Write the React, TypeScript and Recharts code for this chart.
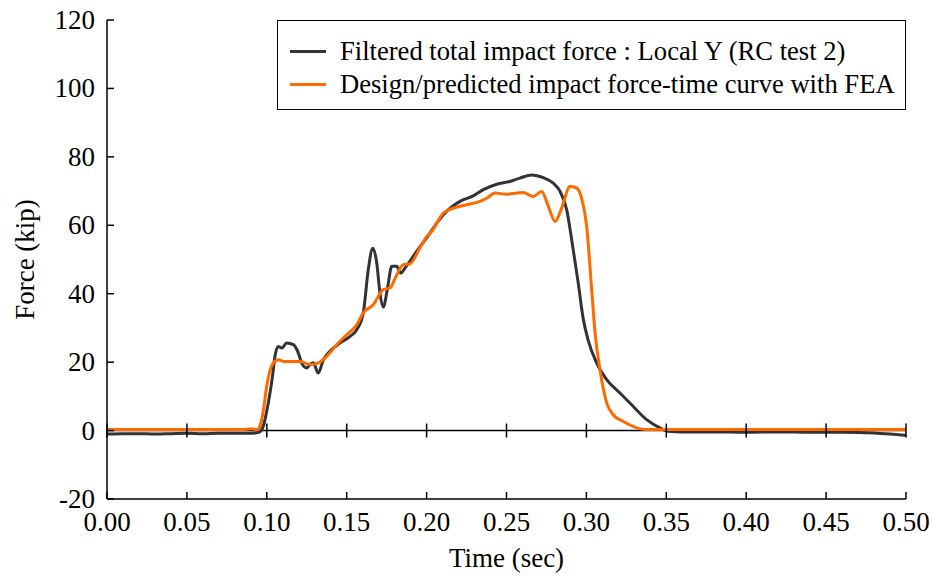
import React from 'react';
import { LineChart, Line, XAxis, YAxis, ReferenceLine, ReferenceDot, Legend } from 'recharts';

// Measured (filtered) impact force, Local Y, RC test 2
const measuredTime = [
  0, 0.01, 0.02, 0.03, 0.04, 0.05, 0.06, 0.07, 0.08, 0.09, 0.095,
  0.0978, 0.1001, 0.102, 0.1036, 0.1051, 0.1072, 0.1093, 0.1125, 0.1166, 0.1197,
  0.1218, 0.125, 0.127, 0.1291, 0.1322, 0.1354, 0.1395, 0.1458, 0.1521, 0.157,
  0.1604, 0.1635, 0.1663, 0.1688, 0.1708, 0.1729, 0.1754, 0.1782, 0.1813, 0.1838,
  0.1865, 0.1917, 0.1979, 0.2021, 0.2042, 0.2105, 0.2209, 0.2292, 0.2355, 0.2439,
  0.2522, 0.2584, 0.2658, 0.273, 0.2793, 0.2835, 0.2877, 0.2908, 0.2949, 0.2979,
  0.301, 0.3064, 0.3127, 0.321, 0.3292, 0.3377, 0.346, 0.351, 0.36, 0.38,
  0.4, 0.42, 0.44, 0.46, 0.48, 0.49, 0.5,
];
const measuredForce = [
  -1.0, -0.9, -0.9, -1.0, -0.9, -0.8, -0.9, -0.8, -0.8, -0.8, -0.5,
  1.3, 6, 11, 16, 21.7, 24.6, 24.1, 25.6, 25.1, 22.7,
  19.8, 18.3, 19.3, 19.8, 16.8, 20.7, 23.2, 25.6, 27.5, 30,
  34.4, 47, 53.3, 49, 40.2, 36.1, 41.2, 48, 48, 46,
  47.5, 51, 55, 57.7, 59.2, 63.1, 67, 68.6, 70.4, 72,
  72.8, 73.8, 74.7, 73.9, 72.3, 69.9, 64.5, 55.8, 43.1, 33,
  26.6, 19.8, 14.9, 11, 7.1, 3.2, 0.8, -0.2, -0.4, -0.4,
  -0.5, -0.4, -0.5, -0.5, -0.7, -1.0, -1.4,
];

// Design / predicted impact force-time curve with FEA
const predictedTime = [
  0, 0.05, 0.085, 0.09, 0.0945, 0.0957, 0.0979, 0.0999, 0.102, 0.1041,
  0.1072, 0.1108, 0.1145, 0.1208, 0.127, 0.1322, 0.1375, 0.1437, 0.15, 0.1563,
  0.1604, 0.1666, 0.1729, 0.1771, 0.1813, 0.1854, 0.1896, 0.1959, 0.2, 0.2032,
  0.2063, 0.2105, 0.2167, 0.2251, 0.2334, 0.2376, 0.2428, 0.2501, 0.2605, 0.2668,
  0.272, 0.2762, 0.2804, 0.2845, 0.2897, 0.2939, 0.297, 0.3002, 0.3033, 0.3054,
  0.3085, 0.3127, 0.3166, 0.3229, 0.3315, 0.3367, 0.35, 0.4, 0.45, 0.5,
];
const predictedForce = [
  0.3, 0.3, 0.3, 0.5, 0.3, 1.3, 6, 12.9, 17.5, 19.8,
  20.7, 20.2, 20.2, 20.2, 19.3, 19.8, 21.7, 25.1, 28, 30.9,
  34.4, 36.8, 41.2, 41.7, 45.5, 48.5, 48.7, 53.5, 56.7, 58.2,
  60.6, 63.6, 65, 66, 67, 67.9, 69.4, 69.1, 69.6, 68.4,
  69.9, 65.5, 61.1, 65, 71.3, 70.9, 67.9, 59.6, 41.2, 28.6,
  17.8, 8.1, 4.7, 2.7, 0.8, 0.3, 0.3, 0.3, 0.3, 0.3,
];

const xTicks = [0, 0.05, 0.1, 0.15, 0.2, 0.25, 0.3, 0.35, 0.4, 0.45, 0.5];
const yTicks = [-20, 0, 20, 40, 60, 80, 100, 120];

const measuredLabel = 'Filtered total impact force : Local Y (RC test 2)';
const predictedLabel = 'Design/predicted impact force-time curve with FEA';
const xTitle = 'Time (sec)';
const yTitle = 'Force (kip)';

const measuredData = measuredTime.map((t, i) => ({ t, f: measuredForce[i] }));
const predictedData = predictedTime.map((t, i) => ({ t, f: predictedForce[i] }));

const FONT = "'Liberation Serif', 'Times New Roman', serif";
const DARK = '#333333';
const ORANGE = '#ff6a00';
const TICK = 7;
const TICK_FONT = 27;

const XTick = (props: any) => {
  const { x, y, payload } = props;
  return (
    <g>
      <line x1={x} y1={y} x2={x} y2={y - TICK} stroke="#000" strokeWidth={1.5} />
      <text x={x} y={y + 32} textAnchor="middle" fontFamily={FONT} fontSize={TICK_FONT} fill="#000">
        {Number(payload.value).toFixed(2)}
      </text>
    </g>
  );
};

const YTick = (props: any) => {
  const { x, y, payload } = props;
  return (
    <g>
      <line x1={x} y1={y} x2={x + TICK} y2={y} stroke="#000" strokeWidth={1.5} />
      <text x={x - 12} y={y + 9} textAnchor="end" fontFamily={FONT} fontSize={TICK_FONT} fill="#000">
        {String(payload.value)}
      </text>
    </g>
  );
};

const RightTick = (props: any) => {
  const { x, y } = props;
  return <line x1={x} y1={y} x2={x - TICK} y2={y} stroke="#000" strokeWidth={1.5} />;
};

const ZeroTick = (props: any) => {
  const { cx, cy } = props;
  return <line x1={cx} y1={cy - TICK} x2={cx} y2={cy + TICK} stroke="#000" strokeWidth={1.5} />;
};

const LegendBox = () => (
  <div
    style={{
      position: 'relative',
      width: 629,
      height: 90,
      boxSizing: 'border-box',
      border: '1.5px solid #000',
      background: '#fff',
      fontFamily: FONT,
      fontSize: 26.6,
      color: '#000',
    }}
  >
    {[
      { label: measuredLabel, color: DARK, top: 15 },
      { label: predictedLabel, color: ORANGE, top: 48 },
    ].map((item) => (
      <div
        key={item.label}
        style={{
          position: 'absolute',
          left: 12,
          top: item.top,
          height: 30,
          display: 'flex',
          alignItems: 'center',
          whiteSpace: 'nowrap',
        }}
      >
        <div style={{ width: 36, height: 3, background: item.color, marginRight: 14 }} />
        <span style={{ lineHeight: '30px' }}>{item.label}</span>
      </div>
    ))}
  </div>
);

export default function App() {
  return (
    <div style={{ position: 'absolute', left: 0, top: 0, width: 932, height: 576, background: '#fff' }}>
      <LineChart
        width={932}
        height={576}
        margin={{ top: 20, right: 26, left: 0, bottom: 0 }}
      >
        <XAxis
          dataKey="t"
          type="number"
          domain={[0, 0.5]}
          ticks={xTicks}
          interval={0}
          allowDataOverflow
          height={77}
          tickSize={0}
          tickMargin={0}
          tickLine={false}
          axisLine={{ stroke: '#000', strokeWidth: 1.5 }}
          tick={<XTick />}
          label={(p: any) => {
            const vb = p.viewBox || {};
            return (
              <text
                x={vb.x + vb.width / 2}
                y={567}
                textAnchor="middle"
                fontFamily={FONT}
                fontSize={27}
                fill="#000"
              >
                {xTitle}
              </text>
            );
          }}
        />
        <XAxis
          xAxisId="top"
          orientation="top"
          dataKey="t"
          type="number"
          domain={[0, 0.5]}
          height={0}
          tick={false}
          tickLine={false}
          axisLine={{ stroke: '#000', strokeWidth: 1.5 }}
        />
        <YAxis
          type="number"
          domain={[-20, 120]}
          ticks={yTicks}
          interval={0}
          allowDataOverflow
          width={107}
          tickSize={0}
          tickMargin={0}
          tickLine={false}
          axisLine={{ stroke: '#000', strokeWidth: 1.5 }}
          tick={<YTick />}
          label={(p: any) => {
            const vb = p.viewBox || {};
            const cx = 25;
            const cy = vb.y + vb.height / 2;
            return (
              <text
                x={cx}
                y={cy}
                transform={`rotate(-90, ${cx}, ${cy})`}
                textAnchor="middle"
                dominantBaseline="central"
                fontFamily={FONT}
                fontSize={27}
                fill="#000"
              >
                {yTitle}
              </text>
            );
          }}
        />
        <YAxis
          yAxisId="right"
          orientation="right"
          type="number"
          domain={[-20, 120]}
          ticks={yTicks}
          interval={0}
          width={0}
          tickSize={0}
          tickMargin={0}
          tickLine={false}
          axisLine={{ stroke: '#000', strokeWidth: 1.5 }}
          tick={<RightTick />}
        />
        <ReferenceLine y={0} stroke="#000" strokeWidth={1.5} />
        {xTicks.map((t) => (
          <ReferenceDot key={`z${t}`} x={t} y={0} r={1} shape={<ZeroTick />} ifOverflow="visible" />
        ))}
        <Line
          data={measuredData}
          dataKey="f"
          name={measuredLabel}
          type="monotone"
          stroke={DARK}
          strokeWidth={3}
          dot={false}
          activeDot={false}
          isAnimationActive={false}
        />
        <Line
          data={predictedData}
          dataKey="f"
          name={predictedLabel}
          type="monotone"
          stroke={ORANGE}
          strokeWidth={3}
          dot={false}
          activeDot={false}
          isAnimationActive={false}
        />
        <Legend
          layout="horizontal"
          verticalAlign="middle"
          align="center"
          wrapperStyle={{ position: 'absolute', left: 277, top: 20, width: 629, height: 90 }}
          content={() => <LegendBox />}
        />
      </LineChart>
    </div>
  );
}
